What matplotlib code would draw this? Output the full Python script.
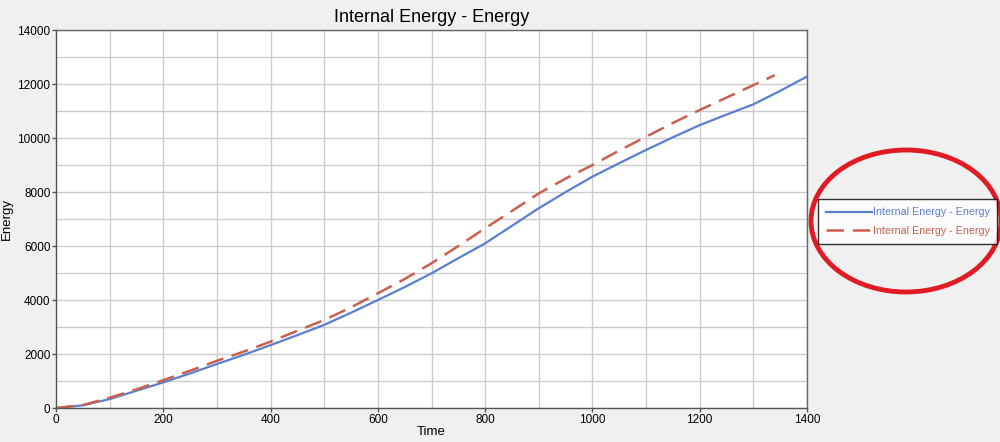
import matplotlib
matplotlib.use("Agg")
import matplotlib.pyplot as plt
from matplotlib.patches import Ellipse
from matplotlib.ticker import MultipleLocator

plt.rcParams['font.family'] = ['Liberation Sans', 'DejaVu Sans']

time_blue = [0, 50, 100, 150, 200, 250, 300, 350, 400, 450, 500, 550, 600, 650, 700,
             750, 800, 850, 900, 950, 1000, 1050, 1100, 1150, 1200, 1250, 1300, 1350, 1400]
energy_blue = [0, 100, 330, 640, 950, 1280, 1630, 1970, 2330, 2700, 3080, 3530, 4000, 4480, 4990,
               5550, 6100, 6750, 7400, 8000, 8570, 9070, 9560, 10030, 10480, 10870, 11250, 11750, 12280]

time_red = [0, 50, 100, 150, 200, 250, 300, 350, 400, 450, 500, 550, 600, 650, 700,
            750, 800, 850, 900, 950, 1000, 1050, 1100, 1150, 1200, 1250, 1300, 1340]
energy_red = [0, 110, 380, 690, 1030, 1380, 1750, 2090, 2460, 2860, 3260, 3730, 4250, 4780, 5360,
              6000, 6660, 7300, 7950, 8500, 9000, 9540, 10050, 10560, 11040, 11500, 11960, 12330]

label = "Internal Energy - Energy"

fig = plt.figure(figsize=(10, 4.42), dpi=100, facecolor='#f0f0f0')
ax = fig.add_axes([0.056, 0.0769, 0.751, 0.855])
ax.set_facecolor('white')

blue = '#5a7fcf'
red = '#c9604f'
l1, = ax.plot(time_blue, energy_blue, color=blue, lw=1.6, label=label)
l2, = ax.plot(time_red, energy_red, color=red, lw=1.8, dashes=(7, 3.5), label=label)

ax.set_xlim(0, 1400)
ax.set_ylim(0, 14000)
ax.xaxis.set_major_locator(MultipleLocator(200))
ax.xaxis.set_minor_locator(MultipleLocator(100))
ax.yaxis.set_major_locator(MultipleLocator(2000))
ax.yaxis.set_minor_locator(MultipleLocator(1000))
ax.grid(True, which='both', color='#cccccc', lw=1)
ax.set_axisbelow(True)
ax.tick_params(which='minor', length=0)
ax.tick_params(which='major', length=3, width=1, color='#555555', labelsize=8.5, pad=1)
for s in ax.spines.values():
    s.set_color('#666666')
    s.set_linewidth(1)
ax.spines['left'].set_color('#555555')
ax.spines['bottom'].set_color('#555555')

ax.set_title(label, fontsize=13, pad=6)
ax.set_xlabel("Time", fontsize=9.5, labelpad=0)
ax.set_ylabel("Energy", fontsize=9.5)
ax.yaxis.set_label_coords(-0.057, 0.5)

leg = fig.legend(handles=[l1, l2], loc='center left', bbox_to_anchor=(0.818, 0.4985),
                 frameon=True, fancybox=False, fontsize=7.7, handlelength=4.3,
                 handletextpad=0.05, borderpad=0.75, labelspacing=0.8, borderaxespad=0)
leg.get_frame().set_edgecolor('black')
leg.get_frame().set_linewidth(1)
leg.get_frame().set_facecolor('white')
for t, c in zip(leg.get_texts(), [blue, red]):
    t.set_color(c)

ell = Ellipse((906 / 1000, 1 - 221 / 442), 190 / 1000, 142 / 442, transform=fig.transFigure,
              fill=False, edgecolor='#e01b24', lw=3.5)
fig.add_artist(ell)

fig.savefig("out.png", dpi=100, facecolor=fig.get_facecolor())
